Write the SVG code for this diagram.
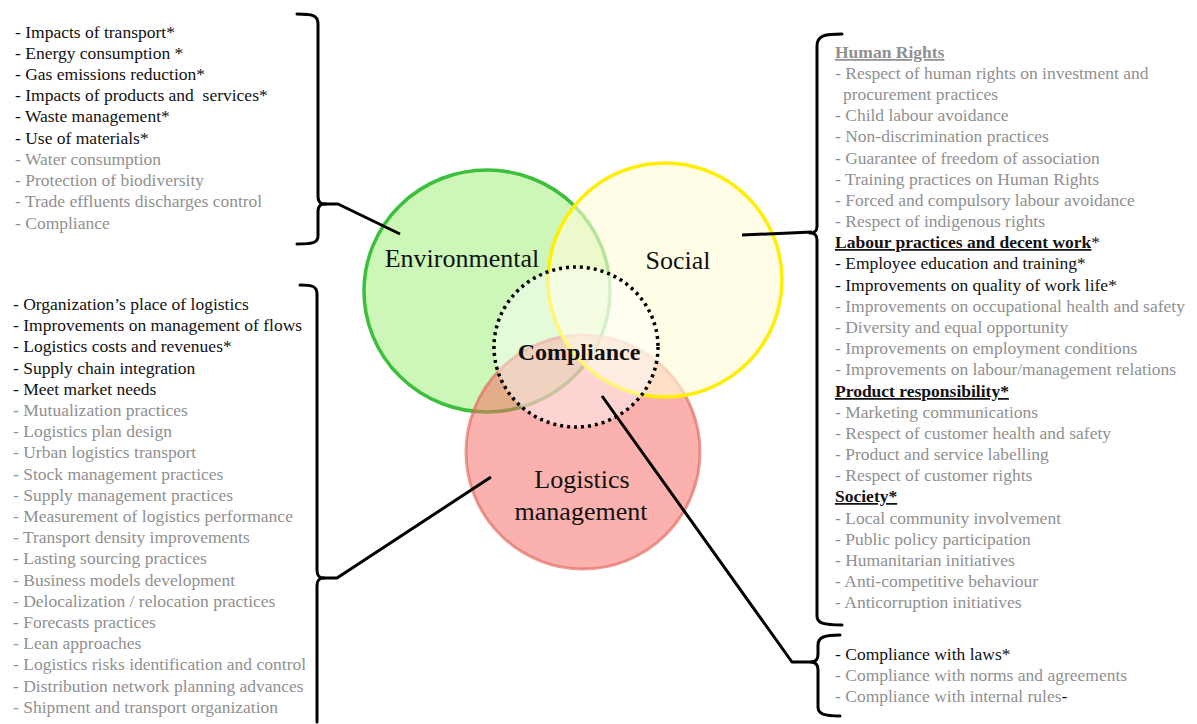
<svg xmlns="http://www.w3.org/2000/svg" width="1197" height="724" viewBox="0 0 1197 724" font-family="Liberation Serif, Times New Roman, serif">
<style>
text{font-family:"Liberation Serif","Times New Roman",Times,serif}
.t{font-size:17.5px}
.k{fill:#111}
.g{fill:#909090}
.lbl{font-size:26px;fill:#111;text-anchor:middle}
.br{fill:none;stroke:#000;stroke-width:3;stroke-linecap:round;stroke-linejoin:round}
.cn{fill:none;stroke:#000;stroke-width:3;stroke-linejoin:round}
.u{text-decoration:underline;font-weight:bold}
</style>
<rect width="1197" height="724" fill="#fff"/>

<g id="environmental">
<ellipse cx="487" cy="291" rx="123" ry="121" fill="#ccf7b9" stroke="#3cc03c" stroke-width="3.5"/>
</g>
<g id="logistics">
<circle cx="583" cy="452" r="117" fill="#f76a64" fill-opacity="0.52" stroke="#e0685c" stroke-opacity="0.65" stroke-width="3"/>
</g>
<g id="social">
<circle cx="665" cy="280" r="117" fill="#fffcd6" fill-opacity="0.62" stroke="#ffee00" stroke-width="3.5"/>
</g>
<g id="compliance">
<ellipse cx="576" cy="347" rx="82" ry="80" fill="#fff" fill-opacity="0.45" stroke="#000" stroke-width="3.5" stroke-dasharray="3 4"/>
<text x="579" y="360" class="lbl" font-family="Liberation Serif, serif" style="font-weight:bold;font-size:24px">Compliance</text>
</g>
<g id="labels" font-family="Liberation Serif, serif">
<text x="462" y="267" class="lbl">Environmental</text>
<text x="678" y="269" class="lbl">Social</text>
<text x="582" y="488" class="lbl">Logistics</text>
<text x="581" y="520" class="lbl">management</text>
</g>

<g id="connectors">
<path class="br" d="M297 14 C312 14 318 15 318 24 L318 196 C318 202 320 204 326 204 C320 204 318 206 318 212 L318 236 C318 243 312 244 297 244"/>
<path class="cn" d="M324 204 L338 204 L400 234"/>
<path class="br" d="M300 285 C312 285 317 286 317 294 L317 570 C317 576 319 578 324 578 C319 578 317 580 317 586 L317 722"/>
<path class="cn" d="M322 578 L337 578 L491 477"/>
<path class="br" d="M842 34 C826 34 817 35 817 46 L817 226 C817 231 815 233 810 233 C815 233 817 235 817 240 L817 616 C817 623 823 625 842 625"/>
<path class="cn" d="M742 235 L812 232"/>
<path class="br" d="M840 635 C825 635 818 637 818 645 L818 654 C818 659 816 662 811 662 C816 662 818 665 818 670 L818 707 C818 714 824 716 840 716"/>
<path class="cn" d="M602 396 L792 662 L813 662"/>
</g>

<g id="env-list" class="t" font-family="Liberation Serif, serif">
<text x="15" y="38" class="k">- Impacts of transport*</text>
<text x="15" y="59" class="k">- Energy consumption *</text>
<text x="15" y="80" class="k">- Gas emissions reduction*</text>
<text x="15" y="101" class="k" xml:space="preserve">- Impacts of products and  services*</text>
<text x="15" y="122" class="k">- Waste management*</text>
<text x="15" y="144" class="k">- Use of materials*</text>
<text x="15" y="165" class="g">- Water consumption</text>
<text x="15" y="186" class="g">- Protection of biodiversity</text>
<text x="15" y="207" class="g">- Trade effluents discharges control</text>
<text x="15" y="229" class="g">- Compliance</text>
</g>

<g id="log-list" class="t" font-family="Liberation Serif, serif">
<text x="13" y="310" class="k">- Organization’s place of logistics</text>
<text x="13" y="331" class="k">- Improvements on management of flows</text>
<text x="13" y="352" class="k">- Logistics costs and revenues*</text>
<text x="13" y="374" class="k">- Supply chain integration</text>
<text x="13" y="395" class="k">- Meet market needs</text>
<text x="13" y="416" class="g">- Mutualization practices</text>
<text x="13" y="437" class="g">- Logistics plan design</text>
<text x="13" y="458" class="g">- Urban logistics transport</text>
<text x="13" y="480" class="g">- Stock management practices</text>
<text x="13" y="501" class="g">- Supply management practices</text>
<text x="13" y="522" class="g">- Measurement of logistics performance</text>
<text x="13" y="543" class="g">- Transport density improvements</text>
<text x="13" y="564" class="g">- Lasting sourcing practices</text>
<text x="13" y="586" class="g">- Business models development</text>
<text x="13" y="607" class="g">- Delocalization / relocation practices</text>
<text x="13" y="628" class="g">- Forecasts practices</text>
<text x="13" y="649" class="g">- Lean approaches</text>
<text x="13" y="670" class="g">- Logistics risks identification and control</text>
<text x="13" y="692" class="g">- Distribution network planning advances</text>
<text x="13" y="713" class="g">- Shipment and transport organization</text>
</g>

<g id="soc-list" class="t" font-family="Liberation Serif, serif">
<text x="835" y="58" class="g"><tspan class="u">Human Rights</tspan></text>
<text x="835" y="79" class="g">- Respect of human rights on investment and</text>
<text x="843" y="100" class="g">procurement practices</text>
<text x="835" y="121" class="g">- Child labour avoidance</text>
<text x="835" y="142" class="g">- Non-discrimination practices</text>
<text x="835" y="164" class="g">- Guarantee of freedom of association</text>
<text x="835" y="185" class="g">- Training practices on Human Rights</text>
<text x="835" y="206" class="g">- Forced and compulsory labour avoidance</text>
<text x="835" y="227" class="g">- Respect of indigenous rights</text>
<text x="835" y="248" class="k"><tspan class="u">Labour practices and decent work</tspan>*</text>
<text x="835" y="269" class="k">- Employee education and training*</text>
<text x="835" y="291" class="k">- Improvements on quality of work life*</text>
<text x="835" y="312" class="g">- Improvements on occupational health and safety</text>
<text x="835" y="333" class="g">- Diversity and equal opportunity</text>
<text x="835" y="354" class="g">- Improvements on employment conditions</text>
<text x="835" y="375" class="g">- Improvements on labour/management relations</text>
<text x="835" y="397" class="k"><tspan class="u">Product responsibility*</tspan></text>
<text x="835" y="418" class="g">- Marketing communications</text>
<text x="835" y="439" class="g">- Respect of customer health and safety</text>
<text x="835" y="460" class="g">- Product and service labelling</text>
<text x="835" y="481" class="g">- Respect of customer rights</text>
<text x="835" y="502" class="k"><tspan class="u">Society*</tspan></text>
<text x="835" y="524" class="g">- Local community involvement</text>
<text x="835" y="545" class="g">- Public policy participation</text>
<text x="835" y="566" class="g">- Humanitarian initiatives</text>
<text x="835" y="587" class="g">- Anti-competitive behaviour</text>
<text x="835" y="608" class="g">- Anticorruption initiatives</text>
</g>

<g id="comp-list" class="t" font-family="Liberation Serif, serif">
<text x="835" y="660" class="k">- Compliance with laws*</text>
<text x="835" y="681" class="g">- Compliance with norms and agreements</text>
<text x="835" y="702" class="g">- Compliance with internal rules<tspan class="k">-</tspan></text>
</g>
</svg>
